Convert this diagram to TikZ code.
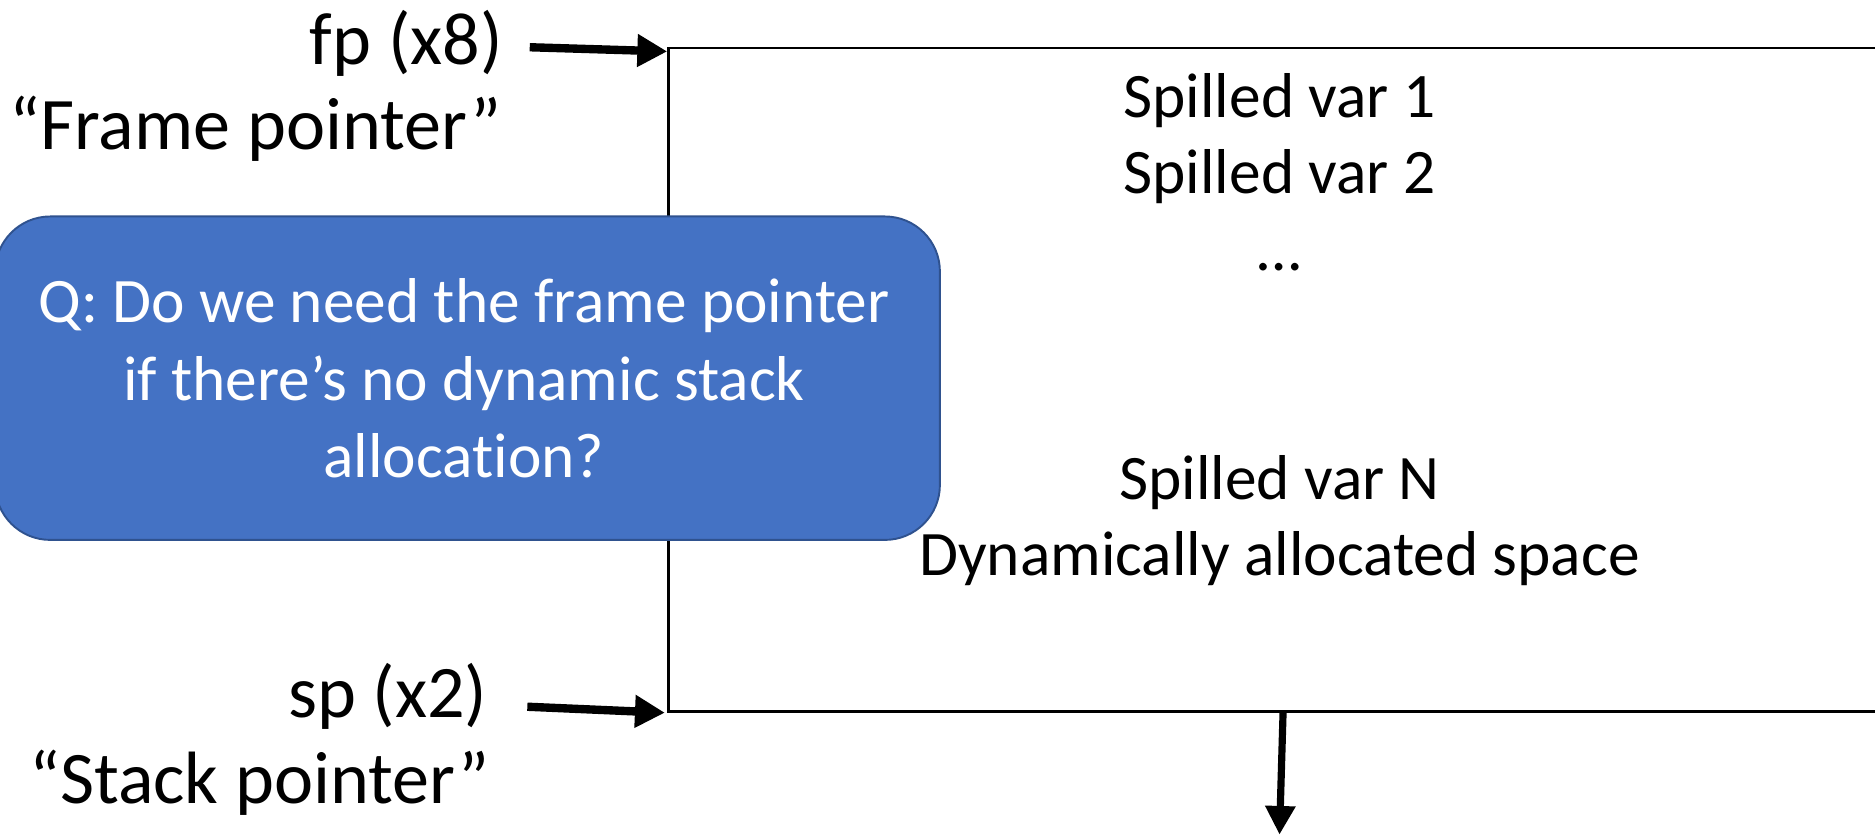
\documentclass[tikz,border=0pt]{standalone}
\usepackage{fontspec}
\setmainfont[Ligatures={NoCommon}]{Carlito}
\usetikzlibrary{arrows.meta}
\definecolor{qfill}{RGB}{68,114,196}
\definecolor{qedge}{RGB}{47,82,143}
\begin{document}
\begin{tikzpicture}[x=0.5pt,y=-0.5pt,
  ptrlabel/.style={font=\fontsize{31}{37}\selectfont, inner sep=0pt, anchor=base east},
  entry/.style={font=\fontsize{26.5}{32}\selectfont, inner sep=0pt, anchor=base},
  framebox/.style={draw, line width=1pt, inner sep=0pt, anchor=north west},
  ptr/.style={line width=3.5pt, -{Triangle[length=12.5pt,width=13pt]}},
  growarrow/.style={line width=3pt, -{Triangle[length=12pt,width=12pt]}},
  qbox/.style={fill=qfill, draw=qedge, line width=0.8pt, rounded corners=23pt},
  qtext/.style={font=\fontsize{26.5}{32}\selectfont, text=white, inner sep=0pt, anchor=base}]
\useasboundingbox (0,0) rectangle (1568,698);

% stack frame (runs off to the right)
\node[framebox, minimum width=521pt, minimum height=277.5pt] (frame) at (558,39) {};

% frame contents
\node[entry] (s1)  at (1070,98)  {Spilled var 1};
\node[entry] (s2)  at (1070,162) {Spilled var 2};
\node[entry] (sd)  at (1070,226) {…};
\node[entry] (sn)  at (1070,418) {Spilled var N};
\node[entry] (dyn) at (1070,481) {Dynamically allocated space};

% pointer labels
\node[ptrlabel] (fp)  at (421,54)  {fp (x8)};
\node[ptrlabel] (fpn) at (420,125) {“Frame pointer”};
\node[ptrlabel] (sp)  at (408,600) {sp (x2)};
\node[ptrlabel] (spn) at (410,672) {“Stack pointer”};

% pointer arrows
\coordinate (fpTail) at (443,39.5);
\coordinate (fpTip)  at (558,43);
\coordinate (spTail) at (441,591);
\coordinate (spTip)  at (556,596);
\draw[ptr] (fpTail) -- (fpTip);
\draw[ptr] (spTail) -- (spTip);

% growth direction
\coordinate (growTop) at (1073,595);
\coordinate (growEnd) at (1070,698);
\draw[growarrow] (growTop) -- (growEnd);

% question callout
\draw[qbox] (-4,181) rectangle (786,451.5);
\node[qtext] (q1) at (388,270) {Q: Do we need the frame pointer};
\node[qtext] (q2) at (388,334.5) {if there’s no dynamic stack};
\node[qtext] (q3) at (388,399) {allocation?};
\end{tikzpicture}
\end{document}
